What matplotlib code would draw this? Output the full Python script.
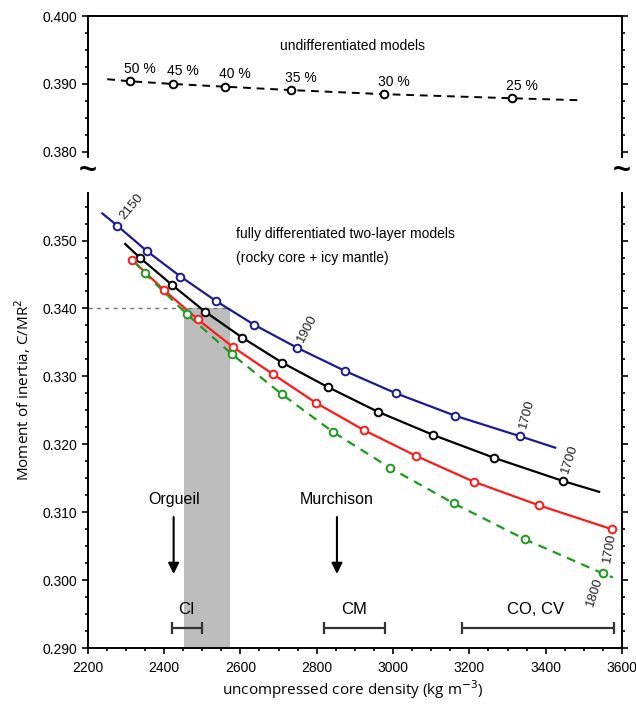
import numpy as np
import matplotlib
matplotlib.use("Agg")
import matplotlib.pyplot as plt
from matplotlib.ticker import MultipleLocator, FormatStrFormatter

plt.rcParams['font.family'] = ['Liberation Sans', 'DejaVu Sans']

# undifferentiated models (top panel)
undiff_x = [2310, 2424, 2559, 2733, 2976, 3311]
undiff_y = [0.3904, 0.3900, 0.3896, 0.3891, 0.3885, 0.3879]
undiff_labels = ['50 %', '45 %', '40 %', '35 %', '30 %', '25 %']
undiff_line_x = [2251, 2310, 2424, 2559, 2733, 2976, 3311, 3495]
undiff_line_y = [0.3907, 0.3904, 0.3900, 0.3896, 0.3891, 0.3885, 0.3879, 0.3876]

# two-layer models (bottom panel): markers
blue_x = [2277, 2356, 2443, 2536, 2636, 2749, 2874, 3008, 3163, 3332]
blue_y = [0.3522, 0.3484, 0.3447, 0.3411, 0.3376, 0.3342, 0.3308, 0.3275, 0.3242, 0.3212]
black_x = [2336, 2420, 2508, 2605, 2710, 2830, 2960, 3104, 3265, 3445]
black_y = [0.3475, 0.3435, 0.3395, 0.3357, 0.3320, 0.3284, 0.3248, 0.3214, 0.3180, 0.3146]
red_x = [2315, 2400, 2488, 2581, 2686, 2798, 2923, 3060, 3211, 3383, 3573]
red_y = [0.3472, 0.3427, 0.3384, 0.3343, 0.3303, 0.3261, 0.3221, 0.3183, 0.3145, 0.3110, 0.3075]
green_x = [2349, 2459, 2577, 2708, 2843, 2993, 3159, 3346, 3549]
green_y = [0.3452, 0.3392, 0.3333, 0.3274, 0.3218, 0.3165, 0.3113, 0.3060, 0.3010]

# line ends beyond the markers (start, end)
blue_ends = [(2238, 0.3540), (3425, 0.3195)]
black_ends = [(2298, 0.3495), (3540, 0.3130)]
green_ends = [(2321, 0.3470), (3576, 0.3004)]

# density labels on curves: text, x, y, rotation
curve_labels = [('2150', 2316, 0.3550, 50), ('1900', 2775, 0.3370, 62),
                ('1700', 3350, 0.3244, 75), ('1700', 3464, 0.3178, 72),
                ('1700', 3567, 0.3048, 80), ('1800', 3529, 0.2982, 72)]

# meteorite groups
group_names = ['CI', 'CM', 'CO, CV']
group_lo = [2420, 2820, 3180]
group_hi = [2500, 2980, 3580]
group_label_x = [2459, 2897, 3373]
meteorites = ['Orgueil', 'Murchison']
meteorite_x = [2425, 2853]

band_lo, band_hi = 2452, 2573
moi_ref = 0.340

fig = plt.figure(figsize=(6.36, 7.08), dpi=100)
ax_top = fig.add_axes([0.138, 0.7777, 0.840, 0.1997])
ax = fig.add_axes([0.138, 0.0847, 0.840, 0.6427])

for a in (ax_top, ax):
    a.set_xlim(2200, 3600)
    for s in a.spines.values():
        s.set_linewidth(1.4)
    a.yaxis.set_major_locator(MultipleLocator(0.01))
    a.yaxis.set_minor_locator(MultipleLocator(0.0025))
    a.yaxis.set_major_formatter(FormatStrFormatter('%.3f'))
    a.tick_params(axis='y', which='both', direction='out', right=True, labelsize=10, width=1.2)
    a.tick_params(axis='y', which='major', length=4)
    a.tick_params(axis='y', which='minor', length=2.5)

# top panel
ax_top.set_ylim(0.3792, 0.400)
ax_top.set_yticks([0.380, 0.390, 0.400])
ax_top.spines['bottom'].set_visible(False)
ax_top.set_xticks([])
ax_top.plot(undiff_line_x, undiff_line_y, color='k', ls='--', lw=1.4, dashes=(4, 3))
ax_top.plot(undiff_x, undiff_y, 'o', mfc='white', mec='k', mew=1.4, ms=5.5)
for lx, ly, lab in zip(undiff_x, undiff_y, undiff_labels):
    ax_top.annotate(lab, (lx, ly), xytext=(7, 9), textcoords='offset points',
                    ha='center', va='center', fontsize=10)
ax_top.text(2894, 0.3956, 'undifferentiated models', ha='center', va='center', fontsize=10)

# bottom panel
ax.set_ylim(0.290, 0.357)
ax.spines['top'].set_visible(False)
ax.xaxis.set_major_locator(MultipleLocator(200))
ax.xaxis.set_minor_locator(MultipleLocator(50))
ax.tick_params(axis='x', which='both', direction='out', labelsize=10, width=1.2)
ax.tick_params(axis='x', which='major', length=4, pad=5)
ax.tick_params(axis='x', which='minor', length=2.5)

ax.axvspan(band_lo, band_hi, ymin=0, ymax=(moi_ref - 0.290) / (0.357 - 0.290),
           color='#bdbdbd', lw=0, zorder=1)
ax.plot([2200, band_hi], [moi_ref, moi_ref], color='#777777', ls=(0, (3, 3)), lw=1.0, zorder=1)

def curve(xs, ys, ends, color, ls):
    lx = [ends[0][0]] + xs + [ends[1][0]] if ends else xs
    ly = [ends[0][1]] + ys + [ends[1][1]] if ends else ys
    ax.plot(lx, ly, color=color, ls=ls, lw=1.6, zorder=3)
    ax.plot(xs, ys, 'o', mfc='white', mec=color, mew=1.4, ms=5.5, zorder=4)

curve(blue_x, blue_y, blue_ends, '#1c1c8c', '-')
curve(black_x, black_y, black_ends, 'black', '-')
curve(red_x, red_y, None, '#ff1a1a', '-')
curve(green_x, green_y, green_ends, '#1e9a1e', (0, (4, 3)))

for lab, lx, ly, rot in curve_labels:
    ax.text(lx, ly, lab, rotation=rot, ha='center', va='center', fontsize=9.5, color='#222222')

ax.text(2588, 0.3509, 'fully differentiated two-layer models', ha='left', va='center', fontsize=10)
ax.text(2588, 0.3475, '(rocky core + icy mantle)', ha='left', va='center', fontsize=10)

for name, mx in zip(meteorites, meteorite_x):
    ax.text(mx, 0.3119, name, ha='center', va='center', fontsize=11.5)
    ax.annotate('', xy=(mx, 0.3005), xytext=(mx, 0.3097),
                arrowprops=dict(arrowstyle='-|>', color='k', lw=1.5, mutation_scale=16))

for name, lo, hi, lx in zip(group_names, group_lo, group_hi, group_label_x):
    ax.errorbar((lo + hi) / 2, 0.2930, xerr=(hi - lo) / 2, color='#333333', lw=1.6,
                capsize=4, capthick=1.6)
    ax.text(lx, 0.2956, name, ha='center', va='center', fontsize=12)

# axis break marks
fig.text(0.138, 0.759, '~', ha='center', va='center', fontsize=22, fontweight='bold')
fig.text(0.978, 0.759, '~', ha='center', va='center', fontsize=22, fontweight='bold')

fig.text(0.035, 0.449, 'Moment of inertia, C/MR$^2$', rotation=90, ha='center', va='center',
         fontsize=11, family=['Open Sans', 'DejaVu Sans'])
fig.text(0.555, 0.026, 'uncompressed core density (kg m$^{-3}$)', ha='center', va='center',
         fontsize=11, family=['Open Sans', 'DejaVu Sans'])

fig.savefig('out.png', dpi=100)
